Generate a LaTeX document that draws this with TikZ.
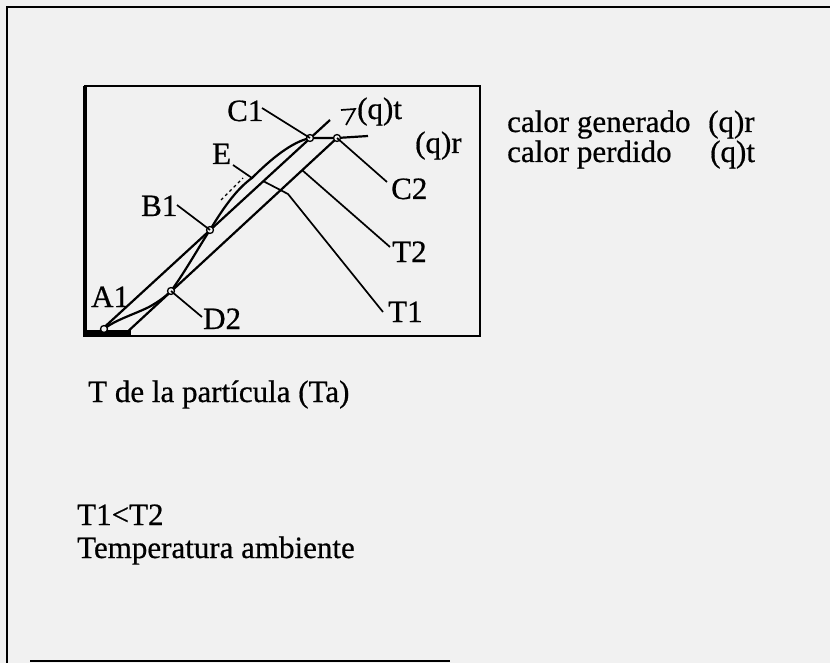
\documentclass[tikz,border=0pt]{standalone}
\usepackage{fontspec}
\setmainfont{Liberation Serif}
\newfontfamily\heavyserif[FakeBold=0.6]{Liberation Serif}
\begin{document}
\begin{tikzpicture}[x=1pt,y=-1pt,
  txt/.style={anchor=base west,inner sep=0pt,font=\heavyserif\fontsize{31}{35}\selectfont},
  curveline/.style={line width=2.2pt},
  lead/.style={line width=1.7pt},
  ptc/.style={circle,draw,line width=1.3pt,fill=bg,inner sep=0pt,minimum size=7pt}]
\definecolor{bg}{RGB}{241,241,241}
\fill[bg] (0,0) rectangle (830,663);
\useasboundingbox (0,0) rectangle (830,663);
% outer frame
\draw[line width=2.2pt] (830,7) -- (7,7) -- (7,663);
\draw[line width=2.2pt] (30,661) -- (450,661);
% inner box
\draw[line width=2.2pt] (85,86) rectangle (480,336);
\draw[line width=3.2pt] (85,86) -- (85,337);
\fill (84,330) rectangle (131,337);
% key points
\coordinate (A1p) at (104,329);
\coordinate (B1p) at (210,230);
\coordinate (C1p) at (310,138);
\coordinate (C2p) at (337,138);
\coordinate (D2p) at (171,291);
\coordinate (Ep) at (252,178);
\coordinate (T1s) at (98,333);
\coordinate (T1e) at (330,120);
\coordinate (T2s) at (124,335);
\coordinate (QRe) at (368,136);
% heat loss lines
\draw[curveline] (T1s) -- (T1e);
\draw[curveline] (T2s) -- (C2p);
% heat generation curve
\draw[curveline] (A1p) .. controls (115,320) and (135,314) .. (149,307)
  .. controls (158,302) and (165,297) .. (D2p)
  .. controls (185,272) and (200,245) .. (B1p)
  .. controls (225,205) and (238,188) .. (Ep)
  .. controls (272,158) and (292,142) .. (C1p) -- (C2p) -- (QRe);
\draw[line width=1.3pt,dashed] (221,200) -- (243,178);
% points
\foreach \p in {A1p,B1p,C1p,C2p,D2p} \node[ptc] at (\p) {};
% labels in plot
\node[txt] (C1) at (227,121) {C1};
\node[txt] (E) at (212,164) {E};
\node[txt] (B1) at (141,216) {B1};
\node[txt] (A1) at (91,307) {A1};
\node[txt] (D2) at (203,329) {D2};
\node[txt] (C2) at (391,199) {C2};
\node[txt] (T2) at (392,262) {T2};
\node[txt] (T1) at (388,322) {T1};
\node[txt] (qt) at (357,119) {(q)t};
\node[txt] (qr) at (415,153) {(q)r};
% leaders
\coordinate (C1l) at (262,108);
\coordinate (C2l) at (387,182);
\coordinate (T2a) at (302,170);
\coordinate (T2l) at (390,247);
\coordinate (T1a) at (263,181);
\coordinate (T1b) at (288,194);
\coordinate (T1l) at (383,312);
\coordinate (D2l) at (202,317);
\coordinate (B1l) at (177,205);
\coordinate (El) at (233,165);
\draw[lead] (C1l) -- (C1p);
\draw[lead] (C2p) -- (C2l);
\draw[lead] (T2a) -- (T2l);
\draw[lead] (T1a) -- (T1b) -- (T1l);
\draw[lead] (D2p) -- (D2l);
\draw[lead] (B1l) -- (B1p);
\draw[lead] (El) -- (Ep);
\coordinate (arA) at (341,110);
\coordinate (arB) at (355,109);
\coordinate (arC) at (346,125);
\draw[lead] (arA) -- (arB) -- (arC);
% legend
\node[txt] (cg) at (507,132) {calor generado};
\node[txt] (cgq) at (708,132) {(q)r};
\node[txt] (cp) at (507,162) {calor perdido};
\node[txt] (cpq) at (710,162) {(q)t};
\node[txt] (tp) at (88,402) {T de la partícula (Ta)};
\node[txt] (tt) at (77,525) {T1<T2};
\node[txt] (ta) at (77,558) {Temperatura ambiente};
\end{tikzpicture}
\end{document}
